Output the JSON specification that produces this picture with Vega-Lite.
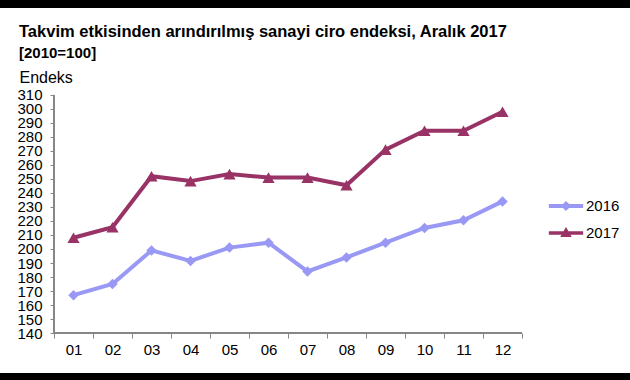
{
  "$schema": "https://vega.github.io/schema/vega-lite/v6.json",
  "width": 630,
  "height": 365,
  "autosize": {"type": "none"},
  "padding": {"top": 8, "bottom": 7, "left": 0, "right": 0},
  "background": "black",
  "view": {"fill": "white", "stroke": null},
  "title": {
    "text": "Takvim etkisinden arındırılmış sanayi ciro endeksi,  Aralık 2017",
    "subtitle": "[2010=100]",
    "anchor": "start",
    "frame": "group",
    "orient": "top",
    "offset": -53,
    "dx": 19,
    "font": "Liberation Sans",
    "fontSize": 16.5,
    "fontWeight": "bold",
    "color": "#000000",
    "subtitleFont": "Liberation Sans",
    "subtitleFontSize": 15,
    "subtitleFontWeight": "bold",
    "subtitleColor": "#000000",
    "subtitlePadding": 6
  },
  "config": {
    "font": "Liberation Sans",
    "axis": {"labelFont": "Liberation Sans", "titleFont": "Liberation Sans"},
    "legend": {"labelFont": "Liberation Sans"}
  },
  "data": {
    "values": [
      {"month": 1, "year": "2016", "value": 167},
      {"month": 2, "year": "2016", "value": 175},
      {"month": 3, "year": "2016", "value": 199},
      {"month": 4, "year": "2016", "value": 191.5},
      {"month": 5, "year": "2016", "value": 201},
      {"month": 6, "year": "2016", "value": 204.5},
      {"month": 7, "year": "2016", "value": 184},
      {"month": 8, "year": "2016", "value": 194},
      {"month": 9, "year": "2016", "value": 204.5},
      {"month": 10, "year": "2016", "value": 215},
      {"month": 11, "year": "2016", "value": 220.5},
      {"month": 12, "year": "2016", "value": 234},
      {"month": 1, "year": "2017", "value": 208},
      {"month": 2, "year": "2017", "value": 215.5},
      {"month": 3, "year": "2017", "value": 252},
      {"month": 4, "year": "2017", "value": 248.5},
      {"month": 5, "year": "2017", "value": 253.5},
      {"month": 6, "year": "2017", "value": 251},
      {"month": 7, "year": "2017", "value": 251},
      {"month": 8, "year": "2017", "value": 245.5},
      {"month": 9, "year": "2017", "value": 271},
      {"month": 10, "year": "2017", "value": 284.5},
      {"month": 11, "year": "2017", "value": 284.5},
      {"month": 12, "year": "2017", "value": 298}
    ]
  },
  "encoding": {
    "x": {
      "field": "month",
      "type": "quantitative",
      "scale": {"domain": [-0.8846, 15.2692], "nice": false, "zero": false},
      "axis": {
        "orient": "bottom",
        "offset": -40,
        "title": null,
        "domain": false,
        "grid": false,
        "values": [0.5, 1, 1.5, 2, 2.5, 3, 3.5, 4, 4.5, 5, 5.5, 6, 6.5, 7, 7.5, 8, 8.5, 9, 9.5, 10, 10.5, 11, 11.5, 12, 12.5],
        "labelExpr": "datum.value % 1 !== 0 ? '' : (datum.value < 10 ? '0' : '') + datum.value",
        "labelOverlap": false,
        "labelFlush": false,
        "labelFontSize": 15,
        "labelColor": "#000000",
        "labelPadding": 4,
        "tickSize": 5,
        "tickColor": "#868686",
        "tickOpacity": {"condition": {"test": "datum.value % 1 !== 0", "value": 1}, "value": 0}
      }
    },
    "y": {
      "field": "value",
      "type": "quantitative",
      "scale": {"domain": [111.43, 372.14], "nice": false, "zero": false},
      "axis": {
        "orient": "left",
        "offset": -54,
        "domain": false,
        "grid": false,
        "values": [140, 150, 160, 170, 180, 190, 200, 210, 220, 230, 240, 250, 260, 270, 280, 290, 300, 310],
        "labelFontSize": 15,
        "labelColor": "#000000",
        "labelPadding": 8,
        "labelOverlap": false,
        "labelFlush": false,
        "tickSize": 4,
        "tickColor": "#868686",
        "title": "Endeks",
        "titleAngle": 0,
        "titleAlign": "left",
        "titleBaseline": "alphabetic",
        "titleX": -35,
        "titleY": 74,
        "titleFontSize": 16,
        "titleFontWeight": "normal",
        "titleColor": "#000000"
      }
    }
  },
  "layer": [
    {
      "mark": {"type": "rule", "color": "#868686", "strokeWidth": 1},
      "encoding": {
        "x": {"datum": 0.5, "type": "quantitative"},
        "x2": {"datum": 12.5},
        "y": {"datum": 140, "type": "quantitative"}
      }
    },
    {
      "mark": {"type": "rule", "color": "#868686", "strokeWidth": 1},
      "encoding": {
        "x": {"datum": 0.5, "type": "quantitative"},
        "y": {"datum": 140, "type": "quantitative"},
        "y2": {"datum": 310}
      }
    },
    {
      "mark": {"type": "line", "strokeWidth": 4},
      "encoding": {
        "color": {
          "field": "year",
          "type": "nominal",
          "scale": {"domain": ["2016", "2017"], "range": ["#9999F5", "#993366"]}
        }
      }
    },
    {
      "transform": [{"filter": "datum.year === '2016'"}],
      "mark": {"type": "point", "shape": "diamond", "filled": true, "size": 110, "opacity": 1},
      "encoding": {
        "color": {"field": "year", "type": "nominal"}
      }
    },
    {
      "transform": [{"filter": "datum.year === '2017'"}],
      "mark": {"type": "point", "shape": "triangle-up", "filled": true, "size": 150, "opacity": 1},
      "encoding": {
        "color": {"field": "year", "type": "nominal"}
      }
    },
    {
      "data": {"values": []},
      "mark": {"type": "point", "filled": true, "opacity": 1},
      "encoding": {
        "x": {"field": "month", "type": "quantitative"},
        "y": {"field": "value", "type": "quantitative"},
        "color": {
          "field": "year",
          "type": "nominal",
          "legend": {
            "title": null,
            "orient": "none",
            "legendX": 554,
            "legendY": 186,
            "padding": 0,
            "symbolSize": 576,
            "rowPadding": 7,
            "labelOffset": 8,
            "labelFontSize": 15,
            "labelColor": "#000000",
            "symbolStrokeWidth": 0
          }
        },
        "shape": {
          "field": "year",
          "type": "nominal",
          "scale": {
            "domain": ["2016", "2017"],
            "range": [
              "M-1.43,-0.16L1.43,-0.16L1.43,0.16L-1.43,0.16Z M0,-0.42L0.42,0L0,0.42L-0.42,0Z",
              "M-1.43,-0.15L1.43,-0.15L1.43,0.15L-1.43,0.15Z M0,-0.5L0.48,0.33L-0.48,0.33Z"
            ]
          },
          "legend": {
            "title": null,
            "orient": "none",
            "legendX": 554,
            "legendY": 186,
            "padding": 0,
            "symbolSize": 576,
            "rowPadding": 7,
            "labelOffset": 8,
            "labelFontSize": 15,
            "labelColor": "#000000",
            "symbolStrokeWidth": 0
          }
        }
      }
    }
  ]
}
